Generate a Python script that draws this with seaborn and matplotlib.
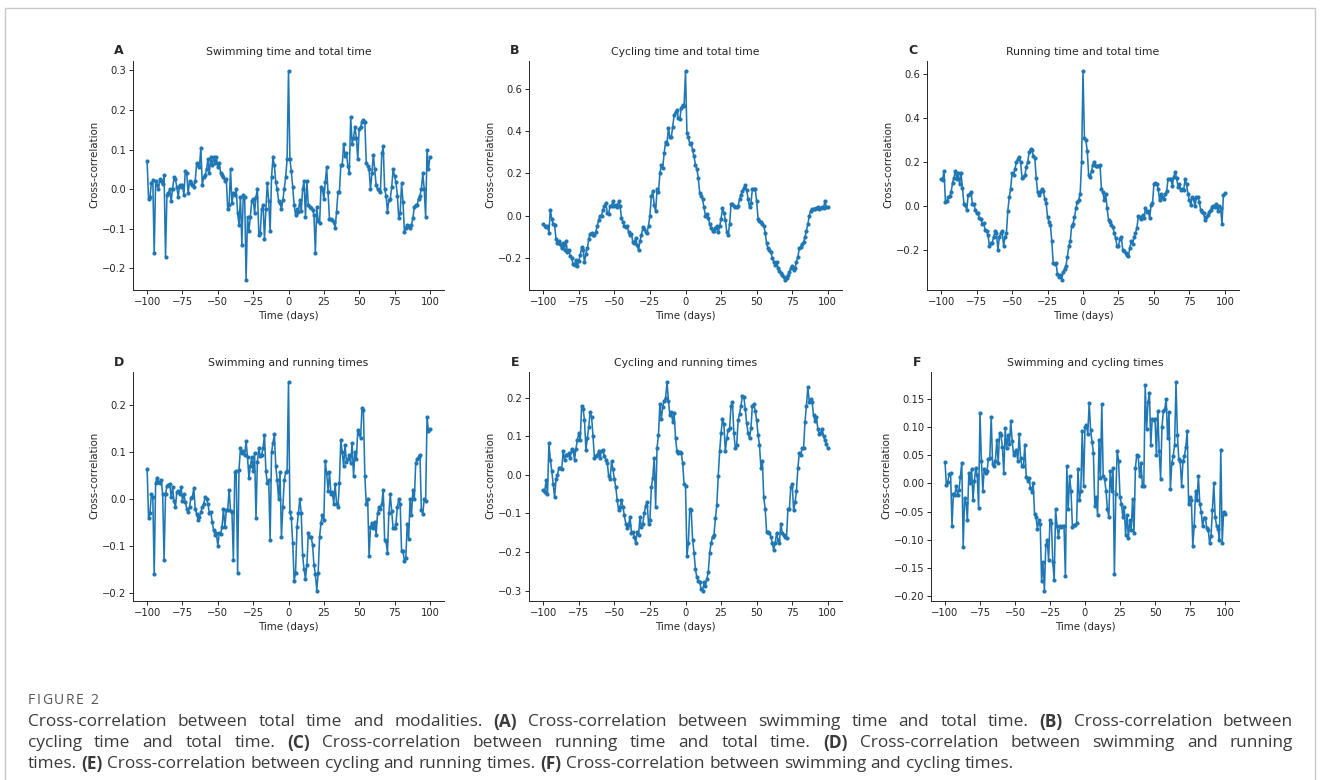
import re
import numpy as np
import pandas as pd
import matplotlib
matplotlib.use("Agg")
import matplotlib.pyplot as plt
import matplotlib.ticker as mticker
from matplotlib.patches import Rectangle
import seaborn as sns

# lags in days, -100 .. 100
lags = np.arange(-100, 101)

# A: swimming time vs total time
swim_total = [
    0.07, -0.025, -0.02, 0.015, 0.022, -0.162, 0.02, 0.01, 0.0, 0.025,
    0.02, 0.012, 0.035, -0.17, -0.015, -0.01, 0.0, -0.03, 0.0, 0.03,
    0.025, 0.005, -0.02, 0.01, 0.005, 0.01, -0.015, 0.045, 0.04, -0.01,
    0.02, 0.015, 0.01, 0.005, 0.02, 0.065, 0.06, 0.055, 0.105, 0.01,
    0.03, 0.035, 0.05, 0.075, 0.04, 0.08, 0.06, 0.08, 0.065, 0.08,
    0.055, 0.065, 0.04, 0.035, 0.03, 0.02, 0.025, -0.05, -0.04, 0.05,
    -0.035, -0.01, -0.015, 0.0, -0.06, -0.09, -0.02, -0.14, -0.015, -0.02,
    -0.228, -0.07, -0.105, -0.07, -0.03, -0.025, -0.06, -0.02, 0.0, -0.115,
    -0.11, -0.05, -0.04, -0.125, -0.05, 0.015, -0.03, -0.105, 0.03, 0.08,
    0.06, 0.017, 0.0, -0.03, -0.035, -0.05, -0.028, 0.0, 0.03, 0.075,
    0.297,
    0.075, 0.045, 0.005, -0.04, -0.065, -0.05, -0.057, -0.028, -0.055, 0.0,
    0.02, -0.07, 0.02, -0.04, -0.045, -0.048, -0.052, -0.065, -0.16, -0.045,
    -0.08, -0.085, 0.005, 0.0, -0.025, 0.017, 0.055, -0.008, -0.075, -0.075,
    -0.077, -0.083, -0.098, -0.057, -0.008, -0.008, 0.06, 0.06, 0.115, 0.083,
    0.09, 0.058, 0.042, 0.182, 0.115, 0.13, 0.157, 0.13, 0.075, 0.153,
    0.157, 0.17, 0.174, 0.17, 0.067, 0.058, 0.05, 0.0, 0.04, 0.087,
    0.05, 0.01, 0.0, -0.003, -0.008, 0.09, 0.108, 0.0, -0.016, -0.057,
    -0.028, -0.024, 0.005, 0.05, 0.033, 0.017, -0.016, -0.073, -0.06, 0.015,
    -0.033, -0.107, -0.098, -0.09, -0.094, -0.098, -0.09, -0.073, -0.045, -0.04,
    -0.04, -0.024, -0.016, 0.0, 0.04, 0.0, -0.07, 0.098, 0.05, 0.08,
]

# B: cycling time vs total time
cycle_total = [
    -0.04, -0.048, -0.055, -0.05, -0.08, 0.028, -0.015, -0.04, -0.045, -0.11,
    -0.13, -0.12, -0.136, -0.155, -0.13, -0.16, -0.12, -0.17, -0.16, -0.19,
    -0.2, -0.23, -0.232, -0.21, -0.24, -0.213, -0.185, -0.15, -0.16, -0.22,
    -0.18, -0.155, -0.11, -0.085, -0.08, -0.09, -0.09, -0.077, -0.047, -0.02,
    0.0, 0.0, 0.028, 0.045, 0.062, 0.015, 0.01, 0.047, 0.047, 0.07,
    0.047, 0.05, 0.04, 0.068, 0.045, -0.01, -0.03, -0.047, -0.055, -0.047,
    -0.078, -0.093, -0.085, -0.125, -0.13, -0.105, -0.14, -0.163, -0.12, -0.093,
    -0.055, -0.065, -0.075, -0.08, -0.047, 0.0, 0.093, 0.115, 0.05, 0.02,
    0.124, 0.11, 0.2, 0.24, 0.225, 0.295, 0.35, 0.34, 0.415, 0.37,
    0.37, 0.42, 0.475, 0.49, 0.5, 0.46, 0.455, 0.51, 0.525, 0.52,
    0.682,
    0.39, 0.37, 0.34, 0.345, 0.31, 0.28, 0.24, 0.22, 0.178, 0.105,
    0.095, 0.078, 0.04, 0.0, 0.01, -0.01, -0.04, -0.06, -0.07, -0.07,
    -0.06, -0.05, -0.078, -0.05, -0.015, 0.035, 0.015, -0.02, -0.075, -0.09,
    -0.04, 0.054, 0.054, 0.046, 0.04, 0.043, 0.047, 0.078, 0.1, 0.115,
    0.132, 0.145, 0.12, 0.08, 0.04, 0.06, 0.124, 0.128, 0.124, 0.07,
    -0.015, -0.025, -0.028, -0.04, -0.047, -0.08, -0.13, -0.155, -0.163, -0.172,
    -0.2, -0.217, -0.233, -0.217, -0.246, -0.263, -0.27, -0.28, -0.29, -0.302,
    -0.295, -0.28, -0.266, -0.248, -0.24, -0.256, -0.248, -0.217, -0.193, -0.155,
    -0.147, -0.132, -0.124, -0.1, -0.07, -0.04, 0.0, 0.023, 0.031, 0.034,
    0.03, 0.035, 0.04, 0.03, 0.035, 0.04, 0.035, 0.07, 0.04, 0.04,
]

# C: running time vs total time
run_total = [
    0.125, 0.12, 0.162, 0.02, 0.025, 0.04, 0.045, 0.065, 0.105, 0.13,
    0.162, 0.125, 0.15, 0.1, 0.15, 0.085, 0.012, 0.005, -0.018, 0.05,
    0.057, 0.065, 0.012, 0.012, -0.018, -0.033, -0.033, -0.055, -0.06, -0.08,
    -0.078, -0.108, -0.115, -0.13, -0.183, -0.168, -0.168, -0.138, -0.115, -0.12,
    -0.2, -0.14, -0.123, -0.115, -0.18, -0.14, -0.123, -0.02, 0.04, 0.08,
    0.15, 0.14, 0.17, 0.2, 0.215, 0.222, 0.2, 0.13, 0.133, 0.14,
    0.18, 0.2, 0.245, 0.26, 0.255, 0.23, 0.22, 0.13, 0.065, 0.05,
    0.065, 0.08, 0.07, 0.035, 0.015, -0.05, -0.07, -0.085, -0.16, -0.26,
    -0.265, -0.26, -0.31, -0.32, -0.315, -0.334, -0.3, -0.285, -0.27, -0.23,
    -0.18, -0.16, -0.09, -0.08, -0.05, -0.01, 0.02, 0.03, 0.057, 0.2,
    0.614,
    0.313, 0.3, 0.253, 0.14, 0.135, 0.16, 0.19, 0.2, 0.185, 0.185,
    0.185, 0.188, 0.08, 0.065, 0.027, 0.057, -0.01, -0.063, -0.07, -0.085,
    -0.093, -0.123, -0.145, -0.18, -0.183, -0.15, -0.138, -0.198, -0.206, -0.213,
    -0.22, -0.228, -0.19, -0.16, -0.17, -0.14, -0.12, -0.1, -0.045, -0.05,
    -0.06, -0.04, -0.055, -0.01, -0.025, -0.02, -0.055, 0.005, 0.013, 0.1,
    0.105, 0.1, 0.08, 0.027, 0.057, 0.042, 0.035, 0.057, 0.07, 0.125,
    0.125, 0.125, 0.09, 0.135, 0.155, 0.13, 0.087, 0.1, 0.072, 0.08,
    0.072, 0.125, 0.1, 0.057, 0.027, 0.005, 0.04, 0.033, 0.0, 0.042,
    0.042, 0.02, -0.018, -0.025, -0.033, -0.063, -0.048, -0.04, -0.025, -0.015,
    -0.005, 0.003, -0.003, 0.01, -0.02, 0.0, -0.01, -0.08, 0.05, 0.06,
]

# D: swimming vs running
swim_run = [
    0.064, -0.04, -0.03, 0.011, 0.005, -0.16, 0.035, 0.046, 0.037, 0.035,
    0.04, 0.01, -0.129, 0.01, 0.028, 0.03, 0.033, 0.004, 0.025, -0.003,
    -0.017, 0.015, 0.018, 0.01, 0.025, -0.003, 0.01, -0.005, -0.02, -0.027,
    -0.017, 0.003, 0.004, 0.024, -0.02, -0.031, -0.045, -0.038, -0.027, -0.017,
    -0.01, 0.004, 0.0, -0.01, -0.03, -0.027, -0.048, -0.066, -0.076, -0.073,
    -0.1, -0.073, -0.074, -0.059, -0.02, -0.06, -0.024, -0.024, 0.02, -0.025,
    -0.028, -0.129, 0.057, 0.06, -0.157, 0.063, 0.109, 0.099, 0.102, 0.095,
    0.123, 0.09, 0.045, 0.07, 0.09, 0.06, 0.099, -0.041, 0.08, 0.109,
    0.092, 0.095, 0.11, 0.137, 0.06, 0.035, 0.04, -0.087, 0.1, 0.12,
    0.138, 0.07, 0.04, 0.0, 0.057, -0.08, -0.017, 0.04, 0.057, 0.06,
    0.249,
    -0.027, -0.04, -0.094, -0.174, -0.157, -0.06, -0.03, 0.0, -0.03, -0.12,
    -0.15, -0.17, -0.14, -0.073, -0.08, -0.081, -0.097, -0.14, -0.16, -0.195,
    -0.157, -0.08, -0.05, -0.034, -0.045, 0.081, 0.055, 0.018, 0.057, 0.011,
    0.015, -0.01, 0.032, -0.01, -0.017, 0.035, 0.127, 0.1, 0.07, 0.115,
    0.08, 0.085, 0.095, 0.078, 0.12, 0.05, 0.1, 0.085, 0.148, 0.14,
    0.13, 0.194, 0.19, 0.05, -0.01, 0.0, -0.122, -0.06, -0.05, -0.062,
    -0.048, -0.076, -0.03, -0.017, -0.02, -0.01, 0.02, -0.087, -0.09, -0.115,
    -0.03, 0.01, -0.025, -0.062, -0.062, -0.052, -0.017, 0.0, -0.01, -0.111,
    -0.111, -0.132, -0.125, -0.052, -0.085, 0.0, -0.034, 0.02, 0.0, 0.077,
    0.085, 0.09, 0.095, -0.024, -0.031, 0.0, -0.003, 0.175, 0.145, 0.15,
]

# E: cycling vs running
cycle_run = [
    -0.04, -0.045, -0.014, -0.05, 0.082, 0.04, 0.01, -0.024, -0.058, -0.011,
    0.0, 0.018, 0.017, 0.015, 0.061, 0.04, 0.053, 0.053, 0.057, 0.044,
    0.068, 0.063, 0.04, 0.068, 0.091, 0.108, 0.091, 0.18, 0.172, 0.142,
    0.065, 0.095, 0.125, 0.163, 0.15, 0.1, 0.044, 0.05, 0.053, 0.061,
    0.044, 0.063, 0.065, 0.048, 0.04, 0.032, -0.003, -0.011, 0.036, 0.015,
    -0.011, -0.032, -0.066, -0.092, -0.083, -0.066, -0.083, -0.105, -0.126, -0.138,
    -0.13, -0.109, -0.15, -0.147, -0.16, -0.177, -0.147, -0.156, -0.109, -0.135,
    -0.126, -0.1, -0.08, -0.07, -0.126, -0.117, -0.032, -0.007, 0.044, -0.083,
    0.07, 0.104, 0.184, 0.146, 0.176, 0.193, 0.2, 0.24, 0.193, 0.155,
    0.163, 0.138, 0.16, 0.095, 0.061, 0.057, 0.06, 0.057, 0.031, -0.024,
    -0.028,
    -0.211, -0.177, -0.088, -0.092, -0.168, -0.202, -0.245, -0.266, -0.274, -0.279,
    -0.296, -0.3, -0.279, -0.287, -0.27, -0.253, -0.202, -0.177, -0.16, -0.156,
    -0.113, -0.079, -0.003, 0.061, 0.108, 0.146, 0.131, 0.061, 0.095, 0.117,
    0.121, 0.18, 0.189, 0.108, 0.07, 0.078, 0.142, 0.159, 0.18, 0.206,
    0.202, 0.172, 0.134, 0.108, 0.095, 0.121, 0.18, 0.184, 0.167, 0.142,
    0.104, 0.078, 0.019, 0.036, -0.058, -0.088, -0.147, -0.147, -0.151, -0.16,
    -0.177, -0.194, -0.177, -0.151, -0.168, -0.177, -0.126, -0.151, -0.156, -0.16,
    -0.164, -0.088, -0.088, -0.032, -0.024, -0.092, -0.071, -0.041, 0.019, 0.057,
    0.053, 0.07, 0.07, 0.138, 0.18, 0.227, 0.189, 0.197, 0.189, 0.155,
    0.14, 0.15, 0.12, 0.105, 0.11, 0.12, 0.1, 0.09, 0.08, 0.07,
]

# F: swimming vs cycling
swim_cycle = [
    0.038, -0.003, 0.003, 0.017, 0.018, -0.075, -0.018, -0.02, -0.005, -0.02,
    -0.012, 0.012, 0.037, -0.112, -0.025, -0.035, -0.065, 0.018, 0.0, 0.025,
    -0.03, 0.005, 0.028, 0.015, -0.043, 0.125, 0.04, -0.013, 0.025, 0.018,
    0.022, 0.043, 0.045, 0.118, 0.035, 0.03, 0.04, 0.077, 0.036, 0.09,
    0.085, 0.065, 0.018, 0.098, 0.062, 0.085, 0.07, 0.11, 0.075, 0.05,
    0.055, 0.06, 0.04, 0.088, 0.045, 0.03, 0.03, 0.068, 0.012, 0.005,
    0.01, -0.008, -0.015, 0.0, -0.055, -0.06, -0.08, -0.065, -0.072, -0.173,
    -0.14, -0.19, -0.11, -0.1, -0.135, -0.065, -0.07, -0.14, -0.172, -0.045,
    -0.075, -0.095, -0.075, -0.077, -0.075, -0.075, -0.165, 0.03, -0.045, 0.013,
    -0.013, -0.077, -0.074, -0.074, -0.071, 0.025, -0.03, -0.013, 0.092, -0.004,
    0.1,
    0.103, 0.088, 0.143, 0.095, 0.074, 0.054, -0.04, -0.024, -0.056, 0.077,
    0.01, 0.141, 0.013, 0.008, -0.013, -0.045, -0.06, 0.022, -0.013, 0.028,
    -0.16, -0.019, 0.057, 0.04, -0.024, -0.036, -0.059, -0.042, -0.091, -0.056,
    -0.097, -0.065, -0.082, -0.027, -0.088, 0.028, 0.051, 0.048, 0.013, 0.036,
    -0.004, -0.004, 0.174, 0.097, 0.144, 0.161, 0.068, 0.115, 0.112, 0.115,
    0.051, 0.129, 0.057, 0.008, 0.1, 0.129, 0.132, 0.15, 0.08, 0.126,
    -0.01, 0.036, 0.048, 0.068, 0.179, 0.086, 0.043, 0.039, -0.004, 0.039,
    0.048, 0.065, 0.092, -0.036, -0.024, -0.03, -0.111, -0.076, -0.013, -0.03,
    0.013, -0.036, -0.051, -0.076, -0.062, -0.062, -0.079, -0.082, -0.106, -0.094,
    -0.048, 0.0, -0.06, -0.075, -0.08, -0.1, 0.06, -0.105, -0.05, -0.055,
]

letters = ["A", "B", "C", "D", "E", "F"]
titles = [
    "Swimming time and total time",
    "Cycling time and total time",
    "Running time and total time",
    "Swimming and running times",
    "Cycling and running times",
    "Swimming and cycling times",
]
series = [swim_total, cycle_total, run_total, swim_run, cycle_run, swim_cycle]
y_steps = [0.1, 0.2, 0.2, 0.1, 0.1, 0.05]

caption_head = "FIGURE 2"
caption_lines = [
    "Cross-correlation between total time and modalities. (A) Cross-correlation between swimming time and total time. (B) Cross-correlation between",
    "cycling time and total time. (C) Cross-correlation between running time and total time. (D) Cross-correlation between swimming and running",
    "times. (E) Cross-correlation between cycling and running times. (F) Cross-correlation between swimming and cycling times.",
]

sns.set_theme(style="ticks")
plt.rcParams["font.family"] = ["DejaVu Sans"]

W, H = 1320, 780
fig = plt.figure(figsize=(W / 100, H / 100), dpi=100)

# axes boxes in pixels: left, top, right, bottom
boxes = [
    (133, 61, 444, 290), (529, 61, 842, 290), (927, 61, 1239, 290),
    (133, 372, 444, 601), (529, 372, 842, 601), (931, 372, 1239, 601),
]

line_color = "#1f77b4"
ink = "#262626"

axes = []
for box, letter, title, vals, step in zip(boxes, letters, titles, series, y_steps):
    l, t, r, b = box
    ax = fig.add_axes([l / W, 1 - b / H, (r - l) / W, (b - t) / H])
    df = pd.DataFrame({"lag": lags, "cc": vals})
    sns.lineplot(data=df, x="lag", y="cc", ax=ax, estimator=None, color=line_color,
                 linewidth=1.15, marker="o", markersize=3.0, markeredgewidth=0)
    ax.set_xticks(np.arange(-100, 101, 25))
    ax.yaxis.set_major_locator(mticker.MultipleLocator(step))
    ax.set_xlabel("Time (days)", fontsize=7.4, color=ink, labelpad=3)
    ax.set_ylabel("Cross-correlation", fontsize=7.4, color=ink)
    ax.yaxis.label.set_va("center")
    ax.set_title(title, fontsize=7.8, color=ink, pad=4)
    ax.tick_params(labelsize=7.2, colors=ink, length=3, width=0.7, pad=1.8)
    for s in ax.spines.values():
        s.set_linewidth(0.7)
        s.set_color(ink)
    sns.despine(ax=ax)
    ax.text(-14 / (r - l), 1 + 10 / (b - t), letter, transform=ax.transAxes,
            fontsize=9, fontweight="bold", color=ink, ha="center", va="center")
    axes.append((ax, box))

# y label sits just left of the widest tick label, a bit above the middle
fig.canvas.draw()
renderer = fig.canvas.get_renderer()
for ax, (l, t, r, b) in axes:
    x0 = min(lab.get_window_extent(renderer).x0
             for lab in ax.get_yticklabels() if lab.get_text())
    ax.yaxis.set_label_coords((x0 - 7.5 - l) / (r - l), 0.55)

# frame around the figure panel
fig.patches.append(Rectangle((5 / W, -0.05), 1310 / W, 1 - 8 / H + 0.05,
                             transform=fig.transFigure, fill=False,
                             edgecolor="#c8c8c8", linewidth=1.0))

cap_color = "#3a3a3a"
cap_font = ["Open Sans", "DejaVu Sans"]
cap_size = 12.4

# letter-spaced heading
x = 28
for ch in caption_head:
    tt = fig.text(x / W, 1 - 700 / H, ch, fontsize=10, color="#555555",
                  family=cap_font, va="center", ha="left")
    x += tt.get_window_extent(renderer).width + 1.6

x_left, x_right = 28, 1293
probe_a = fig.text(0, 0, "a a", fontsize=cap_size, family=cap_font)
probe_b = fig.text(0, 0, "aa", fontsize=cap_size, family=cap_font)
space_w = probe_a.get_window_extent(renderer).width - probe_b.get_window_extent(renderer).width
probe_a.remove()
probe_b.remove()

for i, line in enumerate(caption_lines):
    y = 1 - (722 + 21 * i) / H
    items = []
    for w in line.split(" "):
        bold = re.fullmatch(r"\([A-F]\)", w) is not None
        txt = fig.text(0, y, w, fontsize=cap_size, family=cap_font, color=cap_color,
                       fontweight="bold" if bold else "normal", va="center", ha="left")
        items.append((txt, txt.get_window_extent(renderer).width))
    total = sum(wd for _, wd in items)
    if i < len(caption_lines) - 1:
        gap = (x_right - x_left - total) / (len(items) - 1)
    else:
        gap = space_w
    x = x_left
    for txt, wd in items:
        txt.set_x(x / W)
        x += wd + gap

fig.savefig("out.png", dpi=100)
